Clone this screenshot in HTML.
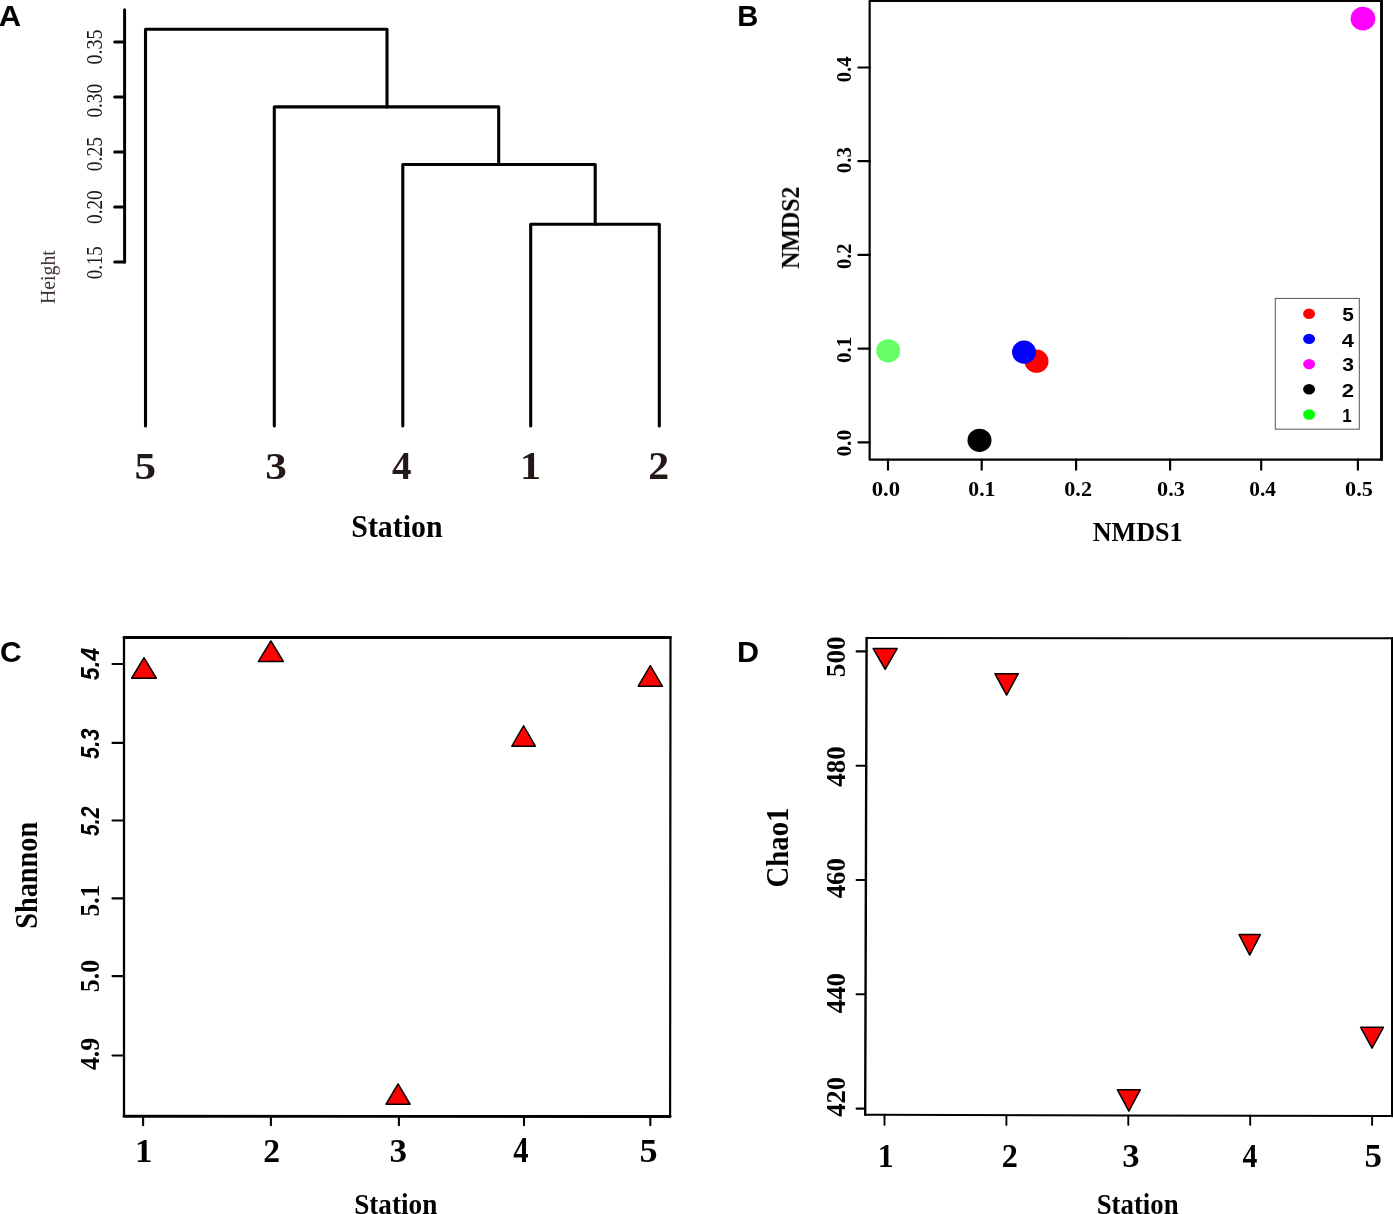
<!DOCTYPE html>
<html lang="en">
<head>
<meta charset="utf-8">
<title>Figure: cluster dendrogram, NMDS, Shannon and Chao1 by station</title>
<style>
html,body{margin:0;padding:0;background:#fff;}
body{width:1393px;height:1214px;overflow:hidden;}
svg{display:block;}
text{white-space:pre;}
</style>
</head>
<body>
<svg width="1393" height="1214" viewBox="0 0 1393 1214">
<rect width="1393" height="1214" fill="#fff"/>
<g opacity="0.999">
<text transform="matrix(1 0 0 0.9511 -1.18 25.50)" font-family="'Liberation Sans', sans-serif" font-weight="bold" font-size="31.04" fill="#000">A</text>
<text transform="matrix(1 0 0 1.0119 737.13 25.60)" font-family="'Liberation Sans', sans-serif" font-weight="bold" font-size="29.18" fill="#000">B</text>
<text transform="matrix(1 0 0 1.0155 0.10 662.00)" font-family="'Liberation Sans', sans-serif" font-weight="bold" font-size="29.92" fill="#000">C</text>
<text transform="matrix(1 0 0 0.9719 737.04 661.60)" font-family="'Liberation Sans', sans-serif" font-weight="bold" font-size="30.53" fill="#000">D</text>
<g id="panelA">
<path d="M124.6 9.8V262.1" fill="none" stroke="#000" stroke-width="3.0" stroke-linejoin="miter" stroke-linecap="round"/>
<path d="M114.7 42.1H124.6" fill="none" stroke="#000" stroke-width="3.0" stroke-linejoin="miter" stroke-linecap="round"/>
<path d="M114.7 97.1H124.6" fill="none" stroke="#000" stroke-width="3.0" stroke-linejoin="miter" stroke-linecap="round"/>
<path d="M114.7 152.1H124.6" fill="none" stroke="#000" stroke-width="3.0" stroke-linejoin="miter" stroke-linecap="round"/>
<path d="M114.7 207.1H124.6" fill="none" stroke="#000" stroke-width="3.0" stroke-linejoin="miter" stroke-linecap="round"/>
<path d="M114.7 262.1H124.6" fill="none" stroke="#000" stroke-width="3.0" stroke-linejoin="miter" stroke-linecap="round"/>
<text transform="matrix(0 -1 1.1419 0 102.46 64.55)" font-family="'Liberation Serif', serif" font-weight="normal" font-size="20.09" fill="#231815">0.35</text>
<text transform="matrix(0 -1 1.1897 0 102.46 117.62)" font-family="'Liberation Serif', serif" font-weight="normal" font-size="19.28" fill="#231815">0.30</text>
<text transform="matrix(0 -1 1.1627 0 102.46 171.34)" font-family="'Liberation Serif', serif" font-weight="normal" font-size="19.73" fill="#231815">0.25</text>
<text transform="matrix(0 -1 1.1934 0 102.46 223.92)" font-family="'Liberation Serif', serif" font-weight="normal" font-size="19.22" fill="#231815">0.20</text>
<text transform="matrix(0 -1 1.2142 0 102.46 279.31)" font-family="'Liberation Serif', serif" font-weight="normal" font-size="18.89" fill="#231815">0.15</text>
<text transform="matrix(0 -1 1.1012 0 54.82 303.99)" font-family="'Liberation Serif', serif" font-weight="normal" font-size="19.76" fill="#3e2f2c">Height</text>
<path d="M145.5 426.0V29.3H387.0V106.9" fill="none" stroke="#000" stroke-width="3.1" stroke-linejoin="round" stroke-linecap="round"/>
<path d="M274.3 426.0V106.9H498.7V164.5" fill="none" stroke="#000" stroke-width="3.1" stroke-linejoin="round" stroke-linecap="round"/>
<path d="M402.8 426.0V164.5H595.2V224.2" fill="none" stroke="#000" stroke-width="3.1" stroke-linejoin="round" stroke-linecap="round"/>
<path d="M530.7 426.0V224.2H659.3V426.0" fill="none" stroke="#000" stroke-width="3.1" stroke-linejoin="round" stroke-linecap="round"/>
<text transform="matrix(1 0 0 0.8992 134.47 478.71)" font-family="'Liberation Serif', serif" font-weight="bold" font-size="43.31" fill="#231815">5</text>
<text transform="matrix(1 0 0 0.8900 265.28 478.71)" font-family="'Liberation Serif', serif" font-weight="bold" font-size="43.27" fill="#231815">3</text>
<text transform="matrix(1 0 0 1.0117 392.01 479.10)" font-family="'Liberation Serif', serif" font-weight="bold" font-size="38.94" fill="#231815">4</text>
<text transform="matrix(1 0 0 0.9304 519.93 479.10)" font-family="'Liberation Serif', serif" font-weight="bold" font-size="42.18" fill="#231815">1</text>
<text transform="matrix(1 0 0 0.9324 648.22 479.10)" font-family="'Liberation Serif', serif" font-weight="bold" font-size="41.93" fill="#231815">2</text>
<text transform="matrix(1 0 0 1.0907 351.33 537.47)" font-family="'Liberation Serif', serif" font-weight="bold" font-size="29.86" fill="#000">Station</text>
</g>
<g id="panelB">
<path d="M1381.5 0.9H869.65V459.7H1381.5" fill="none" stroke="#000" stroke-width="2.2" stroke-linejoin="round" stroke-linecap="butt"/>
<path d="M1381.5 0.9V459.7" fill="none" stroke="#000" stroke-width="2.9" stroke-linejoin="miter" stroke-linecap="round"/>
<path d="M858.4 442.3H869.9" fill="none" stroke="#000" stroke-width="2.2" stroke-linejoin="miter" stroke-linecap="round"/>
<path d="M858.4 348.6H869.9" fill="none" stroke="#000" stroke-width="2.2" stroke-linejoin="miter" stroke-linecap="round"/>
<path d="M858.4 254.9H869.9" fill="none" stroke="#000" stroke-width="2.2" stroke-linejoin="miter" stroke-linecap="round"/>
<path d="M858.4 161.2H869.9" fill="none" stroke="#000" stroke-width="2.2" stroke-linejoin="miter" stroke-linecap="round"/>
<path d="M858.4 67.5H869.9" fill="none" stroke="#000" stroke-width="2.2" stroke-linejoin="miter" stroke-linecap="round"/>
<path d="M888.0 459.7V469.7" fill="none" stroke="#000" stroke-width="2.2" stroke-linejoin="miter" stroke-linecap="round"/>
<path d="M981.7 459.7V469.7" fill="none" stroke="#000" stroke-width="2.2" stroke-linejoin="miter" stroke-linecap="round"/>
<path d="M1076.1 459.7V469.7" fill="none" stroke="#000" stroke-width="2.2" stroke-linejoin="miter" stroke-linecap="round"/>
<path d="M1170.1 459.7V469.7" fill="none" stroke="#000" stroke-width="2.2" stroke-linejoin="miter" stroke-linecap="round"/>
<path d="M1261.2 459.7V469.7" fill="none" stroke="#000" stroke-width="2.2" stroke-linejoin="miter" stroke-linecap="round"/>
<path d="M1357.9 459.7V469.7" fill="none" stroke="#000" stroke-width="2.2" stroke-linejoin="miter" stroke-linecap="round"/>
<text transform="matrix(0 -1 1.0358 0 850.78 82.17)" font-family="'Liberation Serif', serif" font-weight="bold" font-size="20.59" fill="#000">0.4</text>
<text transform="matrix(0 -1 1.0207 0 850.78 173.28)" font-family="'Liberation Serif', serif" font-weight="bold" font-size="20.89" fill="#000">0.3</text>
<text transform="matrix(0 -1 1.0395 0 850.78 269.07)" font-family="'Liberation Serif', serif" font-weight="bold" font-size="20.51" fill="#000">0.2</text>
<text transform="matrix(0 -1 1.0096 0 850.78 363.09)" font-family="'Liberation Serif', serif" font-weight="bold" font-size="21.12" fill="#000">0.1</text>
<text transform="matrix(0 -1 0.9943 0 850.78 456.60)" font-family="'Liberation Serif', serif" font-weight="bold" font-size="21.45" fill="#000">0.0</text>
<text transform="matrix(0 -1 1.0645 0 799.35 268.78)" font-family="'Liberation Serif', serif" font-weight="bold" font-size="23.89" fill="#000">NMDS2</text>
<text transform="matrix(1 0 0 0.9043 871.75 495.79)" font-family="'Liberation Serif', serif" font-weight="bold" font-size="22.77" fill="#000">0.0</text>
<text transform="matrix(1 0 0 0.9477 968.29 495.79)" font-family="'Liberation Serif', serif" font-weight="bold" font-size="21.72" fill="#000">0.1</text>
<text transform="matrix(1 0 0 0.9283 1064.27 495.79)" font-family="'Liberation Serif', serif" font-weight="bold" font-size="22.18" fill="#000">0.2</text>
<text transform="matrix(1 0 0 0.9271 1157.07 495.79)" font-family="'Liberation Serif', serif" font-weight="bold" font-size="22.21" fill="#000">0.3</text>
<text transform="matrix(1 0 0 0.9629 1249.20 495.79)" font-family="'Liberation Serif', serif" font-weight="bold" font-size="21.38" fill="#000">0.4</text>
<text transform="matrix(1 0 0 0.9233 1345.06 495.79)" font-family="'Liberation Serif', serif" font-weight="bold" font-size="22.30" fill="#000">0.5</text>
<text transform="matrix(1 0 0 1.0075 1092.68 541.44)" font-family="'Liberation Serif', serif" font-weight="bold" font-size="26.12" fill="#000">NMDS1</text>
<ellipse cx="1362.95" cy="18.65" rx="12.35" ry="11.85" fill="#ff00ff"/>
<ellipse cx="888.2" cy="350.8" rx="12.0" ry="11.6" fill="#66ff66"/>
<ellipse cx="979.5" cy="440.3" rx="12.0" ry="11.6" fill="#000"/>
<ellipse cx="1036.5" cy="361.2" rx="12.0" ry="11.6" fill="#ff0000"/>
<ellipse cx="1024.0" cy="352.1" rx="12.0" ry="11.6" fill="#0000ff"/>
<rect x="1275.3" y="298.4" width="84.0" height="130.8" fill="none" stroke="#555" stroke-width="1"/>
<ellipse cx="1309.1" cy="313.7" rx="6.0" ry="5.2" fill="#ff0000"/>
<text transform="matrix(1 0 0 0.9053 1342.17 321.11)" font-family="'Liberation Sans', sans-serif" font-weight="bold" font-size="20.90" fill="#000">5</text>
<ellipse cx="1309.1" cy="338.9" rx="6.0" ry="5.2" fill="#0000ff"/>
<text transform="matrix(1 0 0 0.8779 1341.67 346.50)" font-family="'Liberation Sans', sans-serif" font-weight="bold" font-size="21.87" fill="#000">4</text>
<ellipse cx="1309.1" cy="364.09999999999997" rx="6.0" ry="5.2" fill="#ff00ff"/>
<text transform="matrix(1 0 0 0.8809 1342.23 371.47)" font-family="'Liberation Sans', sans-serif" font-weight="bold" font-size="21.11" fill="#000">3</text>
<ellipse cx="1309.1" cy="389.29999999999995" rx="6.0" ry="5.2" fill="#000"/>
<text transform="matrix(1 0 0 0.8570 1341.83 396.90)" font-family="'Liberation Sans', sans-serif" font-weight="bold" font-size="22.08" fill="#000">2</text>
<ellipse cx="1309.1" cy="414.5" rx="6.0" ry="5.2" fill="#00ff00"/>
<text transform="matrix(1 0 0 1.1301 1342.24 422.10)" font-family="'Liberation Sans', sans-serif" font-weight="bold" font-size="16.99" fill="#000">1</text>
</g>
<g id="panelC">
<path d="M124.0 637.5H670.5" fill="none" stroke="#000" stroke-width="2.8" stroke-linejoin="miter" stroke-linecap="round"/>
<path d="M124.0 1116.2L670.1 1116.5" fill="none" stroke="#000" stroke-width="2.9" stroke-linejoin="miter" stroke-linecap="round"/>
<path d="M124.0 637.6V1116.2" fill="none" stroke="#000" stroke-width="2.3" stroke-linejoin="miter" stroke-linecap="round"/>
<path d="M670.5 637.6L670.1 1116.5" fill="none" stroke="#000" stroke-width="2.2" stroke-linejoin="miter" stroke-linecap="round"/>
<path d="M112.5 664.05H124.0" fill="none" stroke="#000" stroke-width="2.1" stroke-linejoin="miter" stroke-linecap="round"/>
<path d="M112.5 742.9H124.0" fill="none" stroke="#000" stroke-width="2.1" stroke-linejoin="miter" stroke-linecap="round"/>
<path d="M112.5 820.5H124.0" fill="none" stroke="#000" stroke-width="2.1" stroke-linejoin="miter" stroke-linecap="round"/>
<path d="M112.5 898.4H124.0" fill="none" stroke="#000" stroke-width="2.1" stroke-linejoin="miter" stroke-linecap="round"/>
<path d="M112.5 976.1H124.0" fill="none" stroke="#000" stroke-width="2.1" stroke-linejoin="miter" stroke-linecap="round"/>
<path d="M112.5 1055.5H124.0" fill="none" stroke="#000" stroke-width="2.1" stroke-linejoin="miter" stroke-linecap="round"/>
<path d="M143.1 1116.4V1125.2" fill="none" stroke="#000" stroke-width="2.1" stroke-linejoin="miter" stroke-linecap="round"/>
<path d="M270.9 1116.4V1125.2" fill="none" stroke="#000" stroke-width="2.1" stroke-linejoin="miter" stroke-linecap="round"/>
<path d="M398.9 1116.4V1125.2" fill="none" stroke="#000" stroke-width="2.1" stroke-linejoin="miter" stroke-linecap="round"/>
<path d="M524.0 1116.4V1125.2" fill="none" stroke="#000" stroke-width="2.1" stroke-linejoin="miter" stroke-linecap="round"/>
<path d="M650.3 1116.4V1125.2" fill="none" stroke="#000" stroke-width="2.1" stroke-linejoin="miter" stroke-linecap="round"/>
<text transform="matrix(0 -1 1.1447 0 99.43 680.13)" font-family="'Liberation Sans', sans-serif" font-weight="bold" font-style="italic" font-size="23.30" fill="#000">5.4</text>
<text transform="matrix(0 -1 1.2046 0 99.44 758.92)" font-family="'Liberation Sans', sans-serif" font-weight="bold" font-style="italic" font-size="21.82" fill="#000">5.3</text>
<text transform="matrix(0 -1 1.2420 0 99.44 836.01)" font-family="'Liberation Sans', sans-serif" font-weight="bold" font-style="italic" font-size="21.17" fill="#000">5.2</text>
<text transform="matrix(0 -1 1.0499 0 99.10 916.42)" font-family="'Liberation Serif', serif" font-weight="bold" font-size="25.40" fill="#000">5.1</text>
<text transform="matrix(0 -1 1.0243 0 99.10 992.23)" font-family="'Liberation Serif', serif" font-weight="bold" font-size="25.84" fill="#000">5.0</text>
<text transform="matrix(0 -1 1.0240 0 99.10 1070.12)" font-family="'Liberation Serif', serif" font-weight="bold" font-size="25.95" fill="#000">4.9</text>
<text transform="matrix(0 -1 1.0883 0 37.49 928.78)" font-family="'Liberation Serif', serif" font-weight="bold" font-size="28.28" fill="#000">Shannon</text>
<text transform="matrix(1 0 0 0.9962 135.11 1161.90)" font-family="'Liberation Serif', serif" font-weight="bold" font-size="34.83" fill="#000">1</text>
<text transform="matrix(1 0 0 1.0246 263.17 1161.90)" font-family="'Liberation Serif', serif" font-weight="bold" font-size="33.73" fill="#000">2</text>
<text transform="matrix(1 0 0 0.9705 389.58 1161.56)" font-family="'Liberation Serif', serif" font-weight="bold" font-size="35.09" fill="#000">3</text>
<text transform="matrix(1 0 0 1.1368 513.32 1161.90)" font-family="'Liberation Serif', serif" font-weight="bold" font-size="30.64" fill="#000">4</text>
<text transform="matrix(1 0 0 0.9509 639.45 1161.56)" font-family="'Liberation Serif', serif" font-weight="bold" font-size="36.21" fill="#000">5</text>
<text transform="matrix(1 0 0 1.0928 354.17 1214.00)" font-family="'Liberation Serif', serif" font-weight="bold" font-size="27.21" fill="#000">Station</text>
<path d="M144.0 657.65L156.35 678.25H131.65Z" fill="#ff0000" stroke="#000" stroke-width="1.5" stroke-linejoin="round" stroke-linecap="butt"/>
<path d="M270.9 640.95L283.34999999999997 661.45H258.45Z" fill="#ff0000" stroke="#000" stroke-width="1.5" stroke-linejoin="round" stroke-linecap="butt"/>
<path d="M398.05 1083.95L410.05 1104.25H386.05Z" fill="#ff0000" stroke="#000" stroke-width="1.5" stroke-linejoin="round" stroke-linecap="butt"/>
<path d="M523.6 725.75L535.35 746.15H511.85Z" fill="#ff0000" stroke="#000" stroke-width="1.5" stroke-linejoin="round" stroke-linecap="butt"/>
<path d="M650.3 665.55L662.3499999999999 686.15H638.25Z" fill="#ff0000" stroke="#000" stroke-width="1.5" stroke-linejoin="round" stroke-linecap="butt"/>
</g>
<g id="panelD">
<path d="M866.6 638.0L1392.3 638.3" fill="none" stroke="#000" stroke-width="2.0" stroke-linejoin="miter" stroke-linecap="round"/>
<path d="M865.2 1114.8L1392.3 1116.0" fill="none" stroke="#000" stroke-width="2.0" stroke-linejoin="miter" stroke-linecap="round"/>
<path d="M866.6 638.0L865.2 1114.8" fill="none" stroke="#000" stroke-width="2.4" stroke-linejoin="miter" stroke-linecap="round"/>
<path d="M1392.3 638.3V1116.0" fill="none" stroke="#000" stroke-width="2.6" stroke-linejoin="miter" stroke-linecap="round"/>
<path d="M856.6 651.4H866.5" fill="none" stroke="#000" stroke-width="2.1" stroke-linejoin="miter" stroke-linecap="round"/>
<path d="M856.6 765.7H866.1" fill="none" stroke="#000" stroke-width="2.1" stroke-linejoin="miter" stroke-linecap="round"/>
<path d="M856.6 880.0H865.8" fill="none" stroke="#000" stroke-width="2.1" stroke-linejoin="miter" stroke-linecap="round"/>
<path d="M856.6 994.3H865.4" fill="none" stroke="#000" stroke-width="2.1" stroke-linejoin="miter" stroke-linecap="round"/>
<path d="M856.6 1108.6H865.1" fill="none" stroke="#000" stroke-width="2.1" stroke-linejoin="miter" stroke-linecap="round"/>
<path d="M884.5 1114.8V1124.9" fill="none" stroke="#000" stroke-width="1.9" stroke-linejoin="miter" stroke-linecap="round"/>
<path d="M1006.4 1115.1V1124.9" fill="none" stroke="#000" stroke-width="1.9" stroke-linejoin="miter" stroke-linecap="round"/>
<path d="M1128.3 1115.4V1124.9" fill="none" stroke="#000" stroke-width="1.9" stroke-linejoin="miter" stroke-linecap="round"/>
<path d="M1250.2 1115.7V1124.9" fill="none" stroke="#000" stroke-width="1.9" stroke-linejoin="miter" stroke-linecap="round"/>
<path d="M1372.1 1116.0V1124.9" fill="none" stroke="#000" stroke-width="1.9" stroke-linejoin="miter" stroke-linecap="round"/>
<text transform="matrix(0 -1 0.9697 0 845.23 677.29)" font-family="'Liberation Serif', serif" font-weight="bold" font-size="27.35" fill="#000">500</text>
<text transform="matrix(0 -1 0.9885 0 845.23 786.64)" font-family="'Liberation Serif', serif" font-weight="bold" font-size="26.83" fill="#000">480</text>
<text transform="matrix(0 -1 0.9885 0 845.23 898.34)" font-family="'Liberation Serif', serif" font-weight="bold" font-size="26.83" fill="#000">460</text>
<text transform="matrix(0 -1 0.9885 0 845.23 1013.24)" font-family="'Liberation Serif', serif" font-weight="bold" font-size="26.83" fill="#000">440</text>
<text transform="matrix(0 -1 0.9987 0 845.23 1116.73)" font-family="'Liberation Serif', serif" font-weight="bold" font-size="26.55" fill="#000">420</text>
<text transform="matrix(0 -1 1.0792 0 787.69 887.44)" font-family="'Liberation Serif', serif" font-weight="bold" font-size="28.79" fill="#000">Chao1</text>
<text transform="matrix(1 0 0 1.0708 877.65 1166.90)" font-family="'Liberation Serif', serif" font-weight="bold" font-size="31.84" fill="#000">1</text>
<text transform="matrix(1 0 0 1.0518 1001.83 1166.90)" font-family="'Liberation Serif', serif" font-weight="bold" font-size="32.29" fill="#000">2</text>
<text transform="matrix(1 0 0 0.9664 1122.20 1166.57)" font-family="'Liberation Serif', serif" font-weight="bold" font-size="34.62" fill="#000">3</text>
<text transform="matrix(1 0 0 1.1488 1242.43 1166.90)" font-family="'Liberation Serif', serif" font-weight="bold" font-size="29.79" fill="#000">4</text>
<text transform="matrix(1 0 0 0.9659 1364.40 1166.56)" font-family="'Liberation Serif', serif" font-weight="bold" font-size="35.03" fill="#000">5</text>
<text transform="matrix(1 0 0 1.1203 1096.69 1213.70)" font-family="'Liberation Serif', serif" font-weight="bold" font-size="26.81" fill="#000">Station</text>
<path d="M873.15 648.55H897.15L885.15 669.25Z" fill="#ff0000" stroke="#000" stroke-width="1.5" stroke-linejoin="round" stroke-linecap="butt"/>
<path d="M994.9 673.7H1018.3000000000001L1006.6 695.05Z" fill="#ff0000" stroke="#000" stroke-width="1.5" stroke-linejoin="round" stroke-linecap="butt"/>
<path d="M1117.4499999999998 1089.85H1140.25L1128.85 1111.15Z" fill="#ff0000" stroke="#000" stroke-width="1.5" stroke-linejoin="round" stroke-linecap="butt"/>
<path d="M1239.1000000000001 934.55H1260.3L1249.7 955.05Z" fill="#ff0000" stroke="#000" stroke-width="1.5" stroke-linejoin="round" stroke-linecap="butt"/>
<path d="M1360.6499999999999 1027.35H1383.45L1372.05 1048.15Z" fill="#ff0000" stroke="#000" stroke-width="1.5" stroke-linejoin="round" stroke-linecap="butt"/>
</g>
</g>
</svg>
</body>
</html>
